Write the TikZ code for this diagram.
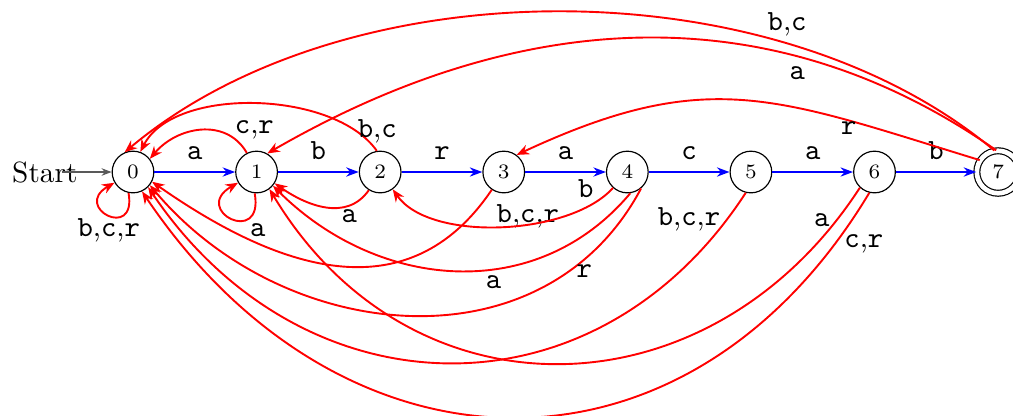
\documentclass[tikz,border=0pt]{standalone}
\usepackage{tikz}
\usetikzlibrary{arrows,arrows.meta}
\usetikzlibrary{calc}
\tikzset{>=Stealth}
\newcommand{\cmma}{{\rmfamily ,}}
\tikzstyle{state} = [circle, draw, thin, minimum size=5mm, inner sep=0pt, font=\scriptsize]
\tikzstyle{fwd}   = [line width=0.7pt, draw=blue, ->, >={Stealth[length=1.5mm,width=1.1mm]}]
\tikzstyle{back}  = [%
					line width=0.65pt,
					draw=red,
					->, >={Stealth[length=1.5mm,width=1.2mm]}
					]
\tikzstyle{lbl}   = [text=black, font=\ttfamily, inner sep=2pt]

\begin{document}
\begin{tikzpicture}
    % Automaton parameters
    \def\sep   {1.483}               % distance between two states
    \def\loopa {0.59}                % size of loop on state 0
    \def\loopb {0.66}                % size of loop on state 1

    \useasboundingbox (-1.596,-2.916) rectangle (10.56,2.064);

    % states
    \foreach \i in {0,...,6} {
       \node[state] (q\i) at (\i*\sep,0) {\i};
    }
    \node[state, double, double distance=1.6pt, minimum size=5.1mm] (q7) at (7*\sep,0) {7};

    % start arrow
    \node[anchor=east, inner sep=0pt] (start) at (-0.66,0) {Start};
    \coordinate (s0) at (-0.85,0);
    \draw[->, gray!70!black, thin, >={Stealth[length=1.2mm,width=0.9mm]}] (s0) -- (q0);

    % forward transitions (spine)
    \foreach \i/\j/\c in {0/1/a,1/2/b,2/3/r,3/4/a,4/5/c,5/6/a,6/7/b} {
       \draw[fwd] (q\i) -- node[lbl, above=2pt] {\c} (q\j);
    }

    % loops
    \draw[back] (q0.-102) .. controls +(-80:\loopa) and +(210:\loopa) .. node[lbl, below=-1pt] {b\cmma c\cmma r} (q0.-150);
    \draw[back] (q1.-95)  .. controls +(-80:\loopb) and +(210:\loopb) .. node[lbl, pos=0.3, below right=-1pt] {a} (q1.-150);

    % short arcs above
    \draw[back] (q1.117) to[out=120, in=50, looseness=1.1]  node[lbl, pos=0.1, above right=-1pt, xshift=-3pt] {c\cmma r} (q0.38);
    \draw[back] (q2.99)  to[out=125, in=63, looseness=0.8]  node[lbl, pos=0.12, right=-2pt] {b\cmma c} (q0.70);

    % arcs below
    \draw[back] (q2.-122) to[out=-125, in=-35, looseness=1.05] node[lbl, pos=0.25, below=-1pt] {a} (q1.-32);
    \draw[back] (q3.-124) to[out=-124, in=-35, looseness=1.14] node[lbl, pos=0.03, below right=-1pt, xshift=3pt] {b\cmma c\cmma r} (q0.-27);
    \draw[back] (q4.-132) to[out=-132, in=-55, looseness=0.75] node[lbl, pos=0.1, above left=-1pt] {b} (q2.-54);
    \draw[back] (q4.-82)  to[out=-130, in=-45, looseness=1.05] node[lbl, pos=0.4, below] {a} (q1.-40);
    \draw[back] (q4.-50)  to[out=-118, in=-50, looseness=1.08] node[lbl, pos=0.19, right] {r} (q0.-38);
    \draw[back] (q5.-104) to[out=-123, in=-56, looseness=1.18] node[lbl, pos=0.04, left] {b\cmma c\cmma r} (q0.-45);
    \draw[back] (q6.-133) to[out=-123, in=-59, looseness=1.19] node[lbl, pos=0.05, left] {a} (q1.-53);
    \draw[back] (q6.-104) to[out=-121, in=-56, looseness=1.25] node[lbl, pos=0.06, right=1pt] {c\cmma r} (q0.-65);

    % long arcs above, from the final state
    \draw[back] (q7.100) to[out=140, in=40, looseness=0.85] node[lbl, pos=0.26, above] {b\cmma c} (q0.113);
    \draw[back] (q7.95)  to[out=145, in=30, looseness=0.99] node[lbl, pos=0.28, below=1pt] {a} (q1.60);
    \draw[back] (q7.147) to[out=163, in=25, looseness=1.17] node[lbl, pos=0.25, below=-2pt] {r} (q3.53);

\end{tikzpicture}
\end{document}
